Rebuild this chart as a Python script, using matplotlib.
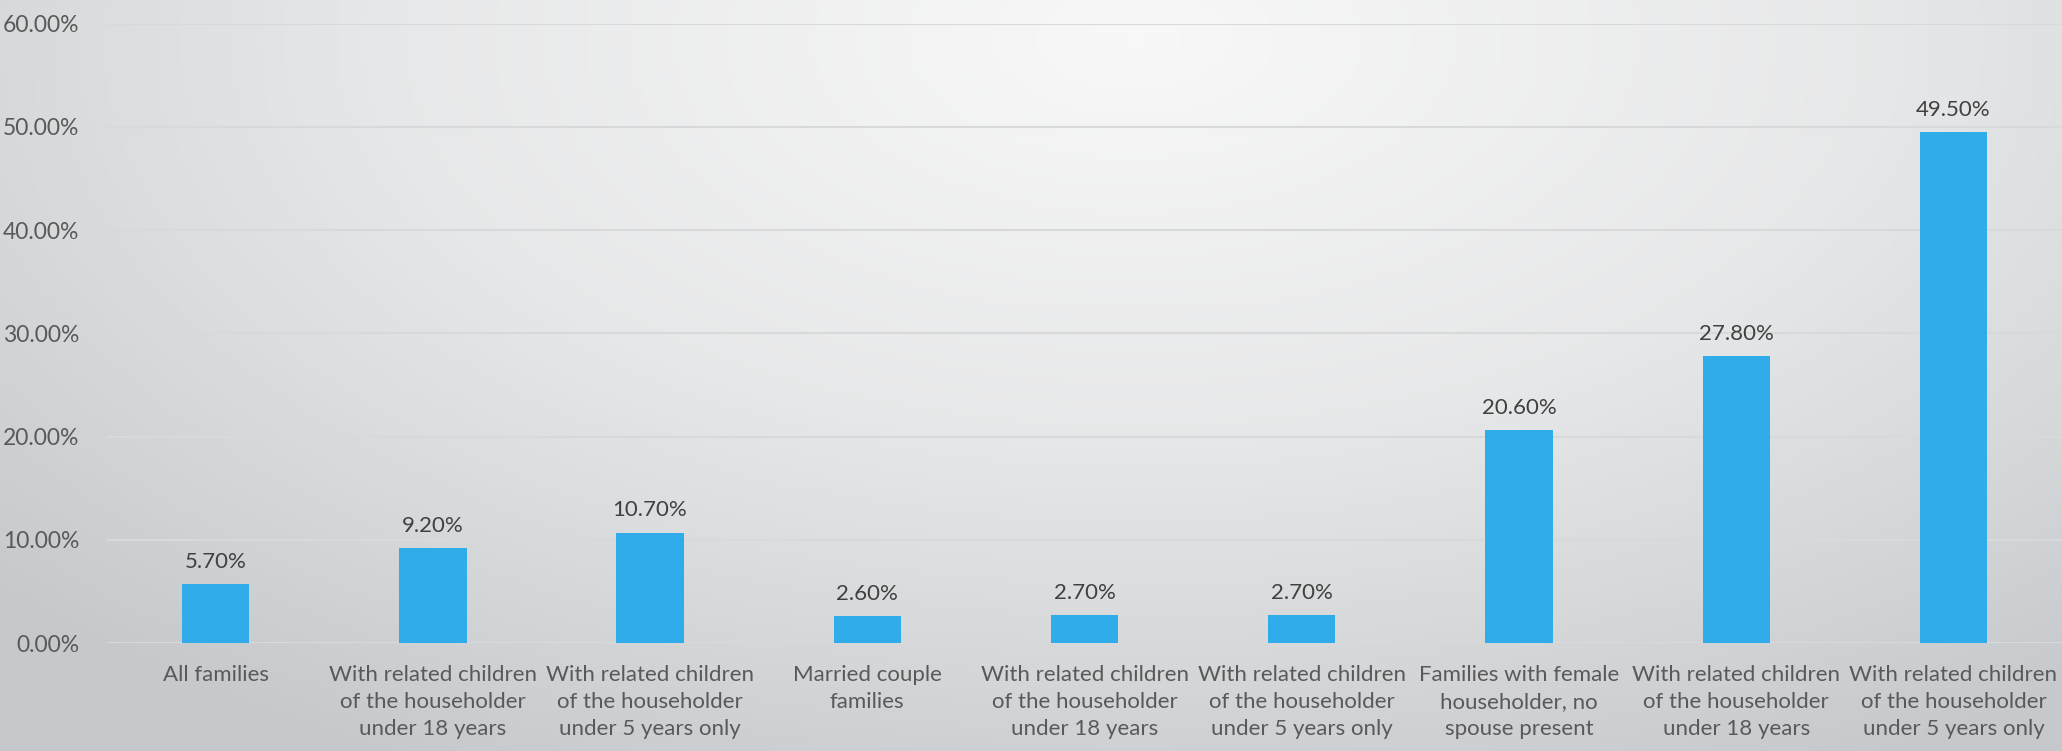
import numpy as np
import matplotlib
matplotlib.use("Agg")
import matplotlib.pyplot as plt
from matplotlib.colors import LinearSegmentedColormap

plt.rcParams['font.family'] = ['Lato', 'DejaVu Sans']

# Chart data
categories = [
    "All families",
    "With related children\nof the householder\nunder 18 years",
    "With related children\nof the householder\nunder 5 years only",
    "Married couple\nfamilies",
    "With related children\nof the householder\nunder 18 years",
    "With related children\nof the householder\nunder 5 years only",
    "Families with female\nhouseholder, no\nspouse present",
    "With related children\nof the householder\nunder 18 years",
    "With related children\nof the householder\nunder 5 years only",
]
values = [5.7, 9.2, 10.7, 2.6, 2.7, 2.7, 20.6, 27.8, 49.5]
y_ticks = [0, 10, 20, 30, 40, 50, 60]

BAR_COLOR = '#2FACE9'
GRID_COLOR = '#D8D9DA'
TICK_COLOR = '#595959'
LABEL_COLOR = '#404040'

fig = plt.figure(figsize=(20.62, 7.51), dpi=100)

# Radial gradient background, light near top centre, grey at the edges
bg = fig.add_axes([0, 0, 1, 1], zorder=-10)
xx, yy = np.meshgrid(np.linspace(0, 1, 400), np.linspace(0, 1, 200))
dist = np.sqrt(((xx - 0.55) / 0.75) ** 2 + ((yy - 0.05) / 1.1) ** 2)
cmap = LinearSegmentedColormap.from_list('bg', ['#F8F8F8', '#E6E7E8', '#C6C9CC'])
bg.imshow(dist, cmap=cmap, aspect='auto', extent=[0, 1, 0, 1], origin='upper',
          vmin=0, vmax=1.0)
bg.axis('off')

ax = fig.add_axes([0.0519, 0.1438, 0.9481, 0.8246])
ax.patch.set_alpha(0)

x = np.arange(len(values))
bars = ax.bar(x, values, width=0.31, color=BAR_COLOR, zorder=3)

for xi, v in zip(x, values):
    ax.annotate(f"{v:.2f}%", (xi, v), xytext=(0, 9), textcoords='offset points',
                ha='center', va='bottom', fontsize=16, color=LABEL_COLOR)

ax.set_xlim(-0.5, len(values) - 0.5)
ax.set_ylim(0, 60)
ax.set_yticks(y_ticks)
ax.set_yticklabels([f"{t:.2f}%" for t in y_ticks], fontsize=16.5)
ax.set_xticks(x)
ax.set_xticklabels(categories, linespacing=1.42, fontsize=16)

ax.yaxis.grid(True, color=GRID_COLOR, linewidth=1.5, zorder=0)
ax.set_axisbelow(True)
for s in ax.spines.values():
    s.set_visible(False)
ax.tick_params(axis='both', length=0, colors=TICK_COLOR)
ax.tick_params(axis='x', pad=16)
ax.tick_params(axis='y', pad=20)

fig.savefig('out.png', dpi=100)
